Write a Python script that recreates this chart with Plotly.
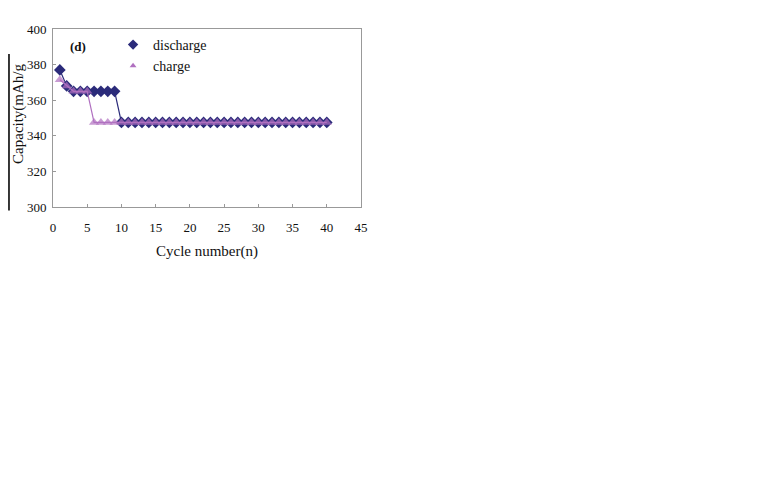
import plotly.graph_objects as go

# cycle data
cycles = list(range(1, 41))
discharge = [377, 368, 365, 365, 365, 365, 365, 365, 365] + [347.5] * 31
charge = [371.5, 368, 365, 365, 365] + [347.5] * 35

x_ticks = [0, 5, 10, 15, 20, 25, 30, 35, 40, 45]
y_ticks = [300, 320, 340, 360, 380, 400]

navy = '#2b2b7a'
pink = '#b070c0'
serif = 'Liberation Serif, Times New Roman, serif'

fig = go.Figure()

# discharge first, charge triangles on top (overlaps come out purple)
fig.add_trace(go.Scatter(
    x=cycles, y=discharge, mode='lines+markers',
    line=dict(color=navy, width=1.2),
    marker=dict(symbol='diamond', size=9, color=navy),
    showlegend=False
))
fig.add_trace(go.Scatter(
    x=cycles, y=charge, mode='lines+markers',
    line=dict(color=pink, width=1.2),
    marker=dict(symbol='triangle-up', size=9, color=pink, opacity=0.7),
    showlegend=False
))

# legend entries (markers only)
fig.add_trace(go.Scatter(
    x=[None], y=[None], mode='markers', name='discharge',
    marker=dict(symbol='diamond', size=8, color=navy)
))
fig.add_trace(go.Scatter(
    x=[None], y=[None], mode='markers', name='charge',
    marker=dict(symbol='triangle-up', size=6, color=pink)
))

fig.add_annotation(
    x=0.05, y=0.9, xref='paper', yref='paper', text='<b>(d)</b>',
    showarrow=False, xanchor='left', yanchor='middle',
    font=dict(family=serif, size=13, color='#111')
)

# y axis title placed by hand so it clears the dark edge bar
fig.add_annotation(
    x=-0.112, y=0.52, xref='paper', yref='paper', text='Capacity(mAh/g',
    showarrow=False, textangle=-90, xanchor='center', yanchor='middle',
    font=dict(family=serif, size=15, color='#111')
)

# dark bar on the left edge (figure crop)
fig.add_shape(type='line', xref='paper', yref='paper',
              x0=-0.143, x1=-0.143, y0=-0.02, y1=0.86,
              line=dict(color='#333', width=2))

fig.update_layout(
    width=768, height=480,
    margin=dict(l=45, r=415, t=21, b=281, autoexpand=False),
    paper_bgcolor='white', plot_bgcolor='white',
    font=dict(family=serif, size=13, color='#111'),
    legend=dict(
        x=0.195, y=1.0, xanchor='left', yanchor='top',
        bgcolor='rgba(0,0,0,0)', font=dict(family=serif, size=14),
        itemwidth=30, tracegroupgap=0
    ),
    xaxis=dict(
        range=[0, 45], tickvals=x_ticks, showgrid=False, zeroline=False,
        showline=True, linecolor='#999', mirror=True,
        ticks='inside', ticklen=3, tickcolor='#999', automargin=False,
        ticklabelstandoff=8, tickfont=dict(size=13),
        title=dict(text='Cycle number(n)', font=dict(size=15), standoff=11)
    ),
    yaxis=dict(
        range=[300, 400], tickvals=y_ticks, showgrid=False, zeroline=False,
        showline=True, linecolor='#999', mirror=True,
        ticks='inside', ticklen=3, tickcolor='#999', automargin=False,
        ticklabelstandoff=3, tickfont=dict(size=13)
    ),
)

fig.write_html("out.html")
